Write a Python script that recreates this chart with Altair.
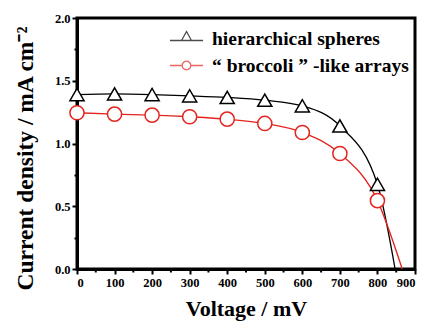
import altair as alt
import pandas as pd

# ---- data ----
voltage = [0, 100, 200, 300, 400, 500, 600, 700, 800]
j_spheres = [1.39, 1.395, 1.39, 1.38, 1.367, 1.345, 1.30, 1.14, 0.675]
j_broccoli = [1.245, 1.234, 1.226, 1.213, 1.194, 1.16, 1.088, 0.92, 0.545]
voc_spheres = 847
voc_broccoli = 866

series_names = ["hierarchical spheres", "\u201c broccoli \u201d -like arrays"]
series_colors = ["#000000", "#e3241f"]
x_major = list(range(0, 901, 100))
x_minor = list(range(50, 900, 100))
y_ticks = [i * 0.25 for i in range(9)]

# ---- tables ----
pts = pd.DataFrame(
    [{"V": v, "J": j, "series": series_names[0]} for v, j in zip(voltage, j_spheres)]
    + [{"V": v, "J": j, "series": series_names[1]} for v, j in zip(voltage, j_broccoli)]
)
lines = pd.concat([
    pts,
    pd.DataFrame([
        {"V": voc_spheres, "J": 0.0, "series": series_names[0]},
        {"V": voc_broccoli, "J": 0.0, "series": series_names[1]},
    ]),
], ignore_index=True)
legend_df = pd.DataFrame({"lg": series_names})
minor_df = pd.DataFrame({"V": x_minor})

FONT = "Liberation Serif"

x_axis = alt.Axis(
    values=x_major, tickCount=len(x_major) + 5, format="d",
    tickSize=5,
    title="Voltage / mV",
    titleFontSize=22, titlePadding=10,
    labelFontSize=12.5, labelPadding=2, labelOverlap=False,
    labelFlush=True, labelFlushOffset=0,
    grid=False,
)
y_axis = alt.Axis(
    values=y_ticks, tickCount=len(y_ticks) + 5,
    labelExpr="abs(datum.value*2 - round(datum.value*2)) < 0.001 ? format(datum.value, '.1f') : ''",
    tickSize={"condition": {"test": "abs(datum.value*2 - round(datum.value*2)) < 0.001", "value": 5}, "value": 3},
    title="Current density / mA cm\u207b\u00b2",
    titleFontSize=23.5, titleX=-40, titleY=140,
    labelFontSize=12.5, labelPadding=2, labelOverlap=False, labelFlush=False,
    grid=False,
)

x_enc = alt.X("V:Q", scale=alt.Scale(domain=[0, 900], nice=False), axis=x_axis)
y_enc = alt.Y("J:Q", scale=alt.Scale(domain=[0, 2], nice=False), axis=y_axis)
color_main = alt.Color("series:N", scale=alt.Scale(domain=series_names, range=series_colors), legend=None)

line_layer = alt.Chart(lines).mark_line(interpolate="monotone", strokeWidth=1.3).encode(
    x=x_enc, y=y_enc, color=color_main, detail="series:N"
)
point_layer = alt.Chart(pts).mark_point(filled=False, fill="white", fillOpacity=1, size=200, strokeWidth=1.5).encode(
    x=x_enc, y=y_enc, color=color_main,
    shape=alt.Shape("series:N", scale=alt.Scale(domain=series_names, range=["triangle-up", "circle"]), legend=None),
)
# minor x ticks (short, below the axis line)
minor_layer = alt.Chart(minor_df).mark_rule(color="black", strokeWidth=2).encode(
    x=x_enc, y=alt.value(252), y2=alt.value(254.5)
)

tri_path = "M-1,0.12L-0.3,0.12M0.3,0.12L1,0.12M0,-0.42L0.3,0.12L-0.3,0.12Z"
circ_path = "M-1,0L-0.26,0M0.26,0L1,0M0.26,0A0.26,0.26,0,1,1,-0.26,0A0.26,0.26,0,1,1,0.26,0Z"

leg = alt.Legend(title=None, orient="none", legendX=92, legendY=3,
                 symbolSize=1100, symbolStrokeWidth=1.3, symbolFillColor="white",
                 labelFont=FONT, labelFontWeight="bold", labelFontSize=19.5,
                 labelColor="black", labelOffset=8, rowPadding=-2, labelLimit=400)

legend_layer = alt.Chart(legend_df).transform_filter("false").mark_point(filled=False).encode(
    color=alt.Color("lg:N", scale=alt.Scale(domain=series_names, range=series_colors), legend=leg),
    shape=alt.Shape("lg:N", scale=alt.Scale(domain=series_names, range=[tri_path, circ_path]), legend=leg),
)

chart = alt.layer(line_layer, point_layer, minor_layer, legend_layer).resolve_scale(
    color="independent", shape="independent"
).properties(
    width=338, height=251,
    autosize=alt.AutoSizeParams(type="none"),
    padding={"left": 77, "top": 18, "right": 27, "bottom": 59},
    background="white",
).configure_view(
    stroke="black", strokeWidth=3
).configure_axis(
    domainColor="black", domainWidth=3, tickColor="black", tickWidth=2,
    labelFont=FONT, labelFontWeight="bold", labelColor="black",
    titleFont=FONT, titleFontWeight="bold", titleColor="black",
)

chart.save("out.html", embed_options={"renderer": "svg", "actions": False})
